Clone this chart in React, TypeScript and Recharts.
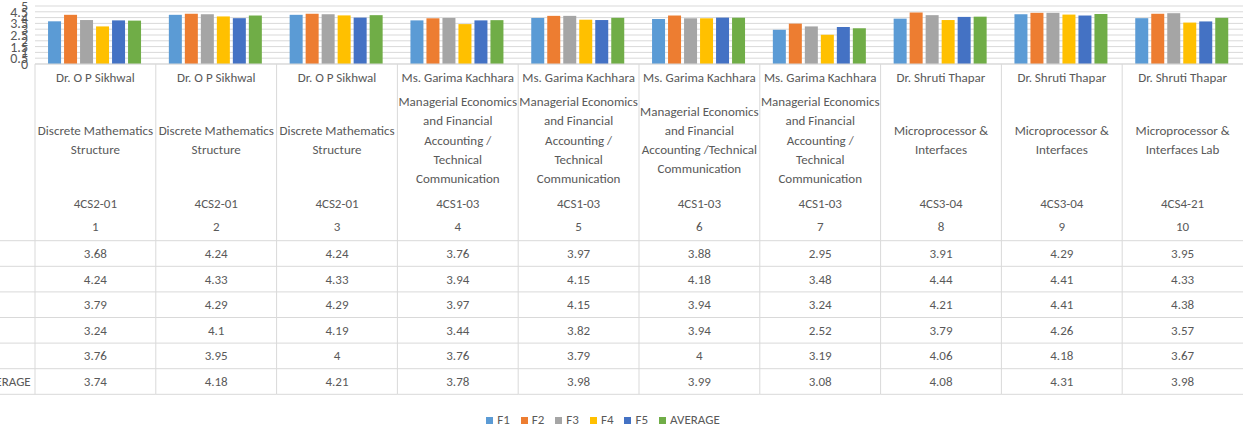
import React from 'react';
import { BarChart, Bar, XAxis, YAxis, CartesianGrid, Legend } from 'recharts';

const teachers = [
  'Dr. O P Sikhwal',
  'Dr. O P Sikhwal',
  'Dr. O P Sikhwal',
  'Ms. Garima Kachhara',
  'Ms. Garima Kachhara',
  'Ms. Garima Kachhara',
  'Ms. Garima Kachhara',
  'Dr. Shruti Thapar',
  'Dr. Shruti Thapar',
  'Dr. Shruti Thapar',
];

// line breaks as they wrap in the cells
const subjects = [
  'Discrete Mathematics\nStructure',
  'Discrete Mathematics\nStructure',
  'Discrete Mathematics\nStructure',
  'Managerial Economics\nand Financial\nAccounting /\nTechnical\nCommunication',
  'Managerial Economics\nand Financial\nAccounting /\nTechnical\nCommunication',
  'Managerial Economics\nand Financial\nAccounting /Technical\nCommunication',
  'Managerial Economics\nand Financial\nAccounting /\nTechnical\nCommunication',
  'Microprocessor &\nInterfaces',
  'Microprocessor &\nInterfaces',
  'Microprocessor &\nInterfaces Lab',
];

const codes = ['4CS2-01', '4CS2-01', '4CS2-01', '4CS1-03', '4CS1-03', '4CS1-03', '4CS1-03', '4CS3-04', '4CS3-04', '4CS4-21'];
const serials = [1, 2, 3, 4, 5, 6, 7, 8, 9, 10];

const f1 = [3.68, 4.24, 4.24, 3.76, 3.97, 3.88, 2.95, 3.91, 4.29, 3.95];
const f2 = [4.24, 4.33, 4.33, 3.94, 4.15, 4.18, 3.48, 4.44, 4.41, 4.33];
const f3 = [3.79, 4.29, 4.29, 3.97, 4.15, 3.94, 3.24, 4.21, 4.41, 4.38];
const f4 = [3.24, 4.1, 4.19, 3.44, 3.82, 3.94, 2.52, 3.79, 4.26, 3.57];
const f5 = [3.76, 3.95, 4, 3.76, 3.79, 4, 3.19, 4.06, 4.18, 3.67];
const average = [3.74, 4.18, 4.21, 3.78, 3.98, 3.99, 3.08, 4.08, 4.31, 3.98];

const seriesNames = ['F1', 'F2', 'F3', 'F4', 'F5', 'AVERAGE'];
const seriesValues = [f1, f2, f3, f4, f5, average];
const yTicks = [0, 0.5, 1, 1.5, 2, 2.5, 3, 3.5, 4, 4.5, 5];

const COLORS = ['#5B9BD5', '#ED7D31', '#A5A5A5', '#FFC000', '#4472C4', '#70AD47'];
const FONT = "Carlito, Calibri, Lato, 'Open Sans', sans-serif";
const TEXT = '#595959';
const GRID = '#d9d9d9';

const W = 1244;
const H = 430;
const Y_AXIS_W = 35;
const X_AXIS_H = 330;
const BAND = (W - Y_AXIS_W - 1) / serials.length;

const data = serials.map((s, i) => {
  const row: Record<string, number> = { serial: s };
  seriesNames.forEach((name, k) => {
    row[name] = seriesValues[k][i];
  });
  return row;
});

// offsets below the axis line
const NAME_Y = 13;
const SUBJECT_MID = 76;
const SUBJECT_LH = 19.3;
const CODE_Y = 139;
const SERIAL_Y = 162.5;
const ROW_TOP = 176.7;
const ROW_H = 25.6;

function TableTick(props: any) {
  const { x, y, payload } = props;
  const i = payload.index ?? props.index;
  const half = payload.offset || BAND / 2;
  const left = x - half;
  const right = x + half;
  const lines = subjects[i].split('\n');
  const startY = y + SUBJECT_MID - ((lines.length - 1) * SUBJECT_LH) / 2;
  const rowLineLeft = i === 0 ? 0 : left;
  const txt = { fill: TEXT, fontSize: 13, textAnchor: 'middle' as const, dominantBaseline: 'central' as const };

  return (
    <g>
      <line x1={left} y1={y} x2={left} y2={y + ROW_TOP + ROW_H * 6} stroke={GRID} />
      {seriesNames.map((_, k) => (
        <line
          key={'h' + k}
          x1={rowLineLeft}
          x2={right}
          y1={y + ROW_TOP + ROW_H * k}
          y2={y + ROW_TOP + ROW_H * k}
          stroke={GRID}
        />
      ))}
      <line x1={rowLineLeft} x2={right} y1={y + ROW_TOP + ROW_H * 6} y2={y + ROW_TOP + ROW_H * 6} stroke={GRID} />
      <text x={x} y={y + NAME_Y} {...txt}>{teachers[i]}</text>
      {lines.map((ln, k) => (
        <text key={'s' + k} x={x} y={startY + k * SUBJECT_LH} {...txt}>{ln}</text>
      ))}
      <text x={x} y={y + CODE_Y} {...txt}>{codes[i]}</text>
      <text x={x} y={y + SERIAL_Y} {...txt}>{serials[i]}</text>
      {seriesValues.map((vals, k) => (
        <text key={'v' + k} x={x} y={y + ROW_TOP + ROW_H * k + ROW_H / 2} {...txt}>{String(vals[i])}</text>
      ))}
      {i === 0 &&
        seriesNames.map((name, k) => (
          <text
            key={'r' + k}
            x={-19}
            y={y + ROW_TOP + ROW_H * k + ROW_H / 2}
            fill={TEXT}
            fontSize={13}
            dominantBaseline="central"
          >
            {name}
          </text>
        ))}
    </g>
  );
}

function LegendContent(props: any) {
  const items = [...(props.payload || [])].sort(
    (a: any, b: any) => seriesNames.indexOf(a.value) - seriesNames.indexOf(b.value)
  );
  return (
    <div
      style={{
        height: 36,
        boxSizing: 'border-box',
        paddingTop: 16,
        display: 'flex',
        justifyContent: 'center',
        alignItems: 'center',
        gap: 11,
        fontFamily: FONT,
        fontSize: 13,
        color: TEXT,
        lineHeight: '16px',
      }}
    >
      {items.map((it: any) => (
        <div key={it.value} style={{ display: 'flex', alignItems: 'center' }}>
          <span style={{ width: 7, height: 7, background: it.color, marginRight: 4, display: 'inline-block' }} />
          <span>{it.value}</span>
        </div>
      ))}
    </div>
  );
}

export default function App() {
  return (
    <div style={{ position: 'absolute', left: 0, top: 0, width: W, height: H, background: '#fff', fontFamily: FONT }}>
      <BarChart
        width={W}
        height={H}
        data={data}
        margin={{ top: 6, right: 1, bottom: 0, left: 0 }}
        barCategoryGap="10.8%"
        barGap={3}
        style={{ fontFamily: FONT }}
      >
        <CartesianGrid vertical={false} stroke={GRID} />
        <XAxis
          dataKey="serial"
          height={X_AXIS_H}
          interval={0}
          tickLine={false}
          tickSize={0}
          tickMargin={0}
          axisLine={{ stroke: GRID }}
          tick={<TableTick />}
        />
        <YAxis
          width={Y_AXIS_W}
          domain={[0, 5]}
          ticks={yTicks}
          interval={0}
          axisLine={false}
          tickLine={false}
          tickSize={0}
          tickMargin={7}
          tick={{ fill: TEXT, fontSize: 14 }}
        />
        <Legend content={<LegendContent />} wrapperStyle={{ left: 0, width: 1206 }} />
        {seriesNames.map((name, k) => (
          <Bar key={name} dataKey={name} fill={COLORS[k]} isAnimationActive={false} />
        ))}
      </BarChart>
    </div>
  );
}
